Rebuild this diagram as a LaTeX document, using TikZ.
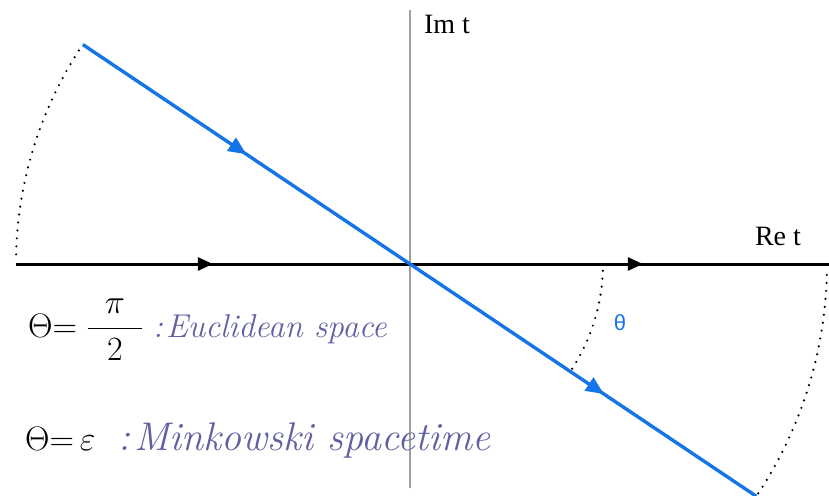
\RequirePackage{fix-cm}
\documentclass[tikz,border=0pt]{standalone}
\usepackage{amsmath}
\usepackage{fontspec}
\usepackage{tikz}
\usetikzlibrary{positioning, arrows.meta, decorations.markings, calc}
\newfontfamily\axisfont{Liberation Serif}
\newfontfamily\greekfont{Liberation Sans}
\definecolor{contour}{RGB}{20,116,232}
\definecolor{ink}{RGB}{96,96,162}
\definecolor{axisgray}{RGB}{160,160,160}

\begin{document}
\begin{tikzpicture}[x=1pt,y=1pt,
    axis line/.style={line width=3pt,black},
    wick line/.style={line width=3.4pt,contour},
    dot arc/.style={line width=2.4pt,dash pattern=on 0pt off 8pt,line cap=round},
    axis label/.style={font=\axisfont\fontsize{28}{30}\selectfont,inner sep=0pt},
    hand math/.style={font=\fontsize{34}{40}\selectfont,text=black,inner sep=0pt},
    hand text/.style={font=\fontsize{#1}{40}\selectfont\itshape,text=ink,inner sep=0pt},
    mid arrow/.style 2 args={postaction={decorate},decoration={markings,
        mark=at position #1 with {\arrow{Triangle[length=#2pt,width=0.85*#2pt]}}}}]
    \useasboundingbox (-410,-231) rectangle (419,264);
    \coordinate (O) at (0,0);
    \coordinate (L) at (180:394);
    \coordinate (R) at (0:419);
    \coordinate (A) at (146.15:394);
    \coordinate (B) at (-33.85:417);
    \coordinate (Itop) at (0,254);
    \coordinate (Ibot) at (0,-224);
    % axes
    \draw[axisgray,line width=1.6pt] (Ibot) -- (Itop);
    \draw[axis line,mid arrow={0.5}{15}] (L) -- (O);
    \draw[axis line,mid arrow={0.556}{15}] (O) -- (R);
    % rotated contour
    \draw[wick line,mid arrow={0.5}{18}] (A) -- (O);
    \draw[wick line,mid arrow={0.56}{18}] (O) -- (B);
    % dotted arcs
    \draw[dot arc] (178.6:394) arc[start angle=178.6, end angle=146.15, radius=394];
    \draw[dot arc] (-1.5:417) arc[start angle=-1.5, end angle=-33.85, radius=417];
    \draw[dot arc] (-2:193) arc[start angle=-2, end angle=-33.85, radius=193];
    % labels
    \node[axis label] (im) at (37,240) {Im t};
    \node[axis label] (re) at (368,28) {Re t};
    \node[text=contour,font=\greekfont\fontsize{22}{24}\selectfont] (th) at (-15.5:218) {θ};
    \node[hand math,anchor=base west] (eq1) at (-382,-73)
        {$\Theta{=}\;\dfrac{\hspace{0.5em}\pi\hspace{0.5em}}{2}$};
    \node[hand text=33,anchor=base west] (euclid) at (-257,-73) {:\kern3pt Euclidean space};
    \node[hand math,anchor=base west] (eq2) at (-385,-186) {$\Theta{=}\,\varepsilon$};
    \node[hand text=40,anchor=base west] (minkowski) at (-292,-186) {:\kern4pt Minkowski spacetime};
\end{tikzpicture}
\end{document}
